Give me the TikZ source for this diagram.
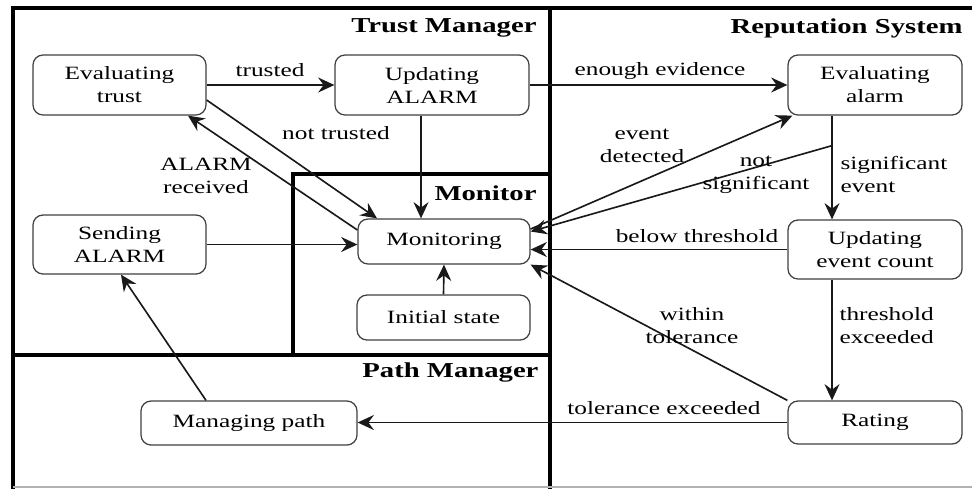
\documentclass[tikz,border=0pt]{standalone}
\usepackage{fontspec}
\setmainfont{Liberation Serif}[FakeStretch=1.35]
\usetikzlibrary{arrows.meta,calc}
\begin{document}
\begin{tikzpicture}[x=0.4pt, y=-0.4pt,
  font=\fontsize{7.5}{9.2}\selectfont,
  state/.style={draw=black!75, line width=0.5pt, rounded corners=4pt,
                align=center, inner sep=0pt, fill=white},
  conn/.style={draw=black!90, line width=0.65pt,
               -{Stealth[length=6.5pt,width=6pt,inset=2.2pt]}},
  frame/.style={line width=1.3pt},
  title/.style={font=\fontsize{8.5}{10}\selectfont\bfseries, inner sep=0pt},
  lbl/.style={align=center, inner sep=0pt}]
\useasboundingbox (0,0) rectangle (972,489);

% component frames
\draw[frame] (972,8) -- (13,8) -- (13,489);
\draw[frame] (550,8) -- (550,489);
\draw[frame] (13,355) -- (550,355);
\draw[frame] (550,174) -- (293,174) -- (293,355);
\draw[black!30, line width=0.5pt] (13,487) -- (972,487);

\node[title, anchor=east] (ttm) at (537,28) {Trust Manager};
\node[title, anchor=east] (trs) at (963,28) {Reputation System};
\node[title, anchor=east] (tmon) at (537,193) {Monitor};
\node[title, anchor=east] (tpm) at (539,372) {Path Manager};

% states
\node[state, minimum width=69.2pt, minimum height=24pt] (evtrust) at (119.5,85) {Evaluating\\trust};
\node[state, minimum width=77.6pt, minimum height=24pt] (updalarm) at (432,85) {Updating\\ALARM};
\node[state, minimum width=69.6pt, minimum height=24pt] (evalarm) at (875,85) {Evaluating\\alarm};
\node[state, minimum width=69.2pt, minimum height=23.6pt] (sendalarm) at (119.5,244.5) {Sending\\ALARM};
\node[state, minimum width=68.8pt, minimum height=18pt] (monitoring) at (444,241.5) {Monitoring};
\node[state, minimum width=69.2pt, minimum height=18pt] (initial) at (443.5,317.5) {Initial state};
\node[state, minimum width=69.6pt, minimum height=23.6pt] (updcount) at (875,249.5) {Updating\\event count};
\node[state, minimum width=69.6pt, minimum height=17.2pt] (rating) at (875,422.5) {Rating};
\node[state, minimum width=86.4pt, minimum height=17.6pt] (managing) at (249,423) {Managing path};

% transitions
\draw[conn] (evtrust.east) -- (updalarm.west);
\draw[conn] (updalarm.east) -- (evalarm.west);
\draw[conn] ([yshift=-6pt]evtrust.east) -- ([xshift=-26.8pt]monitoring.north);
\draw[conn] ([yshift=4.6pt]monitoring.west) -- ([xshift=27.4pt]evtrust.south);
\draw[conn] ([xshift=-4.4pt]updalarm.south) -- ([xshift=-4.4pt]updalarm.south |- monitoring.north);
\draw[conn] (sendalarm.east) -- (sendalarm.east -| monitoring.west);
\draw[conn] (initial.north) -- (monitoring.south);
\draw[conn] ([yshift=5pt]monitoring.east) -- ([xshift=2pt]evalarm.south west);
\coordinate (ns) at ([xshift=-17.2pt,yshift=-12pt]evalarm.south);
\draw[conn] (ns) -- ([yshift=4pt]monitoring.east);
\draw[conn] ([xshift=-17.2pt]evalarm.south) -- ([xshift=-17.2pt]evalarm.south |- updcount.north);
\draw[conn] (updcount.west) -- (updcount.west -| monitoring.east);
\draw[conn] ([xshift=-17.2pt]updcount.south) -- ([xshift=-17.2pt]updcount.south |- rating.north);
\draw[conn] (rating.north west) -- (monitoring.south east);
\draw[conn] (rating.west) -- (rating.west -| managing.east);
\draw[conn] ([xshift=-17.2pt]managing.north) -- ([xshift=0.6pt]sendalarm.south);

% transition labels
\node[lbl] (ltrusted) at (270,70) {trusted};
\node[lbl] (lenough) at (660,71) {enough evidence};
\node[lbl] (lnottrusted) at (336,133) {not trusted};
\node[lbl] (lalarmrec) at (206,175.5) {ALARM\\received};
\node[lbl] (levent) at (642,146) {event\\detected};
\node[lbl] (lnotsig) at (756,174.5) {not\\significant};
\node[lbl, anchor=west, align=left] (lsig) at (840,174.5) {significant\\event};
\node[lbl] (lbelow) at (697,236) {below threshold};
\node[lbl] (lwithin) at (692,325.5) {within\\tolerance};
\node[lbl, anchor=west, align=left] (lthresh) at (839,325.5) {threshold\\exceeded};
\node[lbl] (ltolex) at (664,408) {tolerance exceeded};
\end{tikzpicture}
\end{document}
